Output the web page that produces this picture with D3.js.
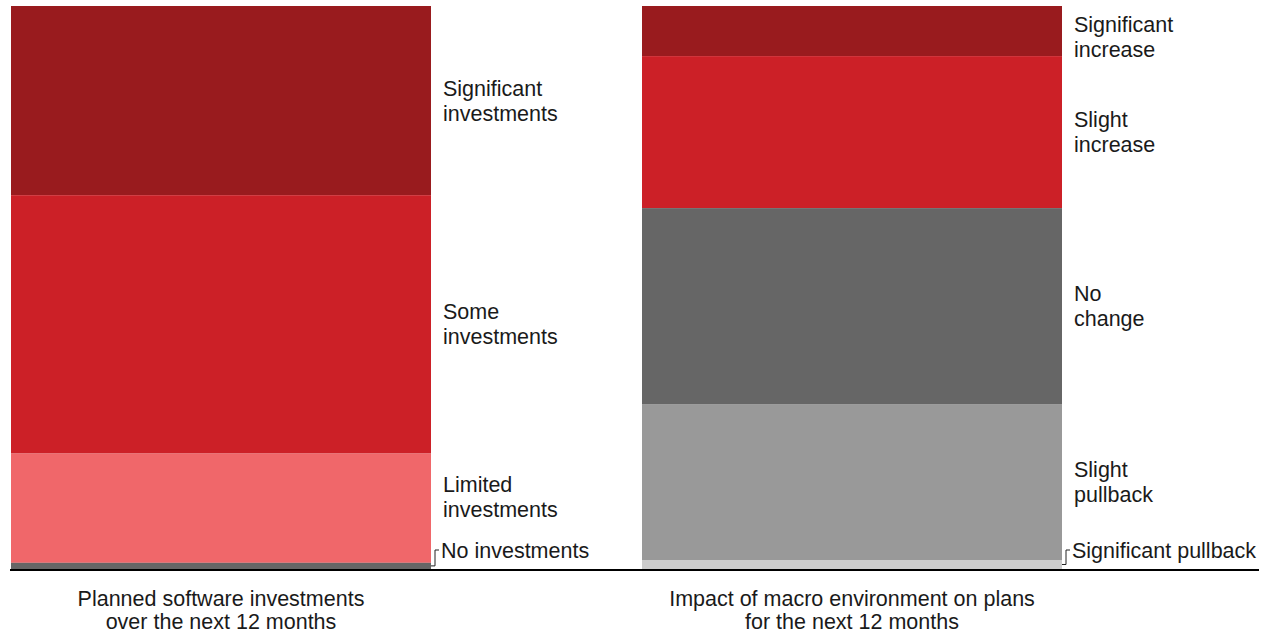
<!DOCTYPE html>
<html>
<head>
<meta charset="utf-8">
<script src="https://cdn.jsdelivr.net/npm/d3@7"></script>
<style>
  html, body { margin: 0; padding: 0; background: #fff; }
  svg { display: block; font-family: "Liberation Sans", Arial, sans-serif; }
</style>
</head>
<body>
<svg id="chart" width="1270" height="634"></svg>
<script>
// Two 100% stacked bars (shares in percent, listed top to bottom)
const barTitles = [
  ["Planned software investments", "over the next 12 months"],
  ["Impact of macro environment on plans", "for the next 12 months"]
];
const investLabels = ["Significant investments", "Some investments", "Limited investments", "No investments"];
const investValues = [33.6, 45.9, 19.4, 1.1];
const macroLabels = ["Significant increase", "Slight increase", "No change", "Slight pullback", "Significant pullback"];
const macroValues = [8.9, 27.0, 34.8, 27.7, 1.6];

const investColors = ["#991b1e", "#cc2027", "#f0676a", "#666666"];
const macroColors = ["#991b1e", "#cc2027", "#666666", "#999999", "#cccccc"];

const bars = [
  { labels: investLabels, values: investValues, colors: investColors, title: barTitles[0] },
  { labels: macroLabels, values: macroValues, colors: macroColors, title: barTitles[1] }
];

const svg = d3.select("#chart");
const fontSize = 21.5, lineH = 25;

const x = d3.scaleBand().domain(d3.range(bars.length)).range([11, 1062])
  .paddingInner(211 / 631).paddingOuter(0);
const y = d3.scaleLinear().domain([0, 100]).range([569, 6]);

bars.forEach((bar, bi) => {
  const g = svg.append("g");
  // stack from the top: cumulative share above each segment
  const segs = bar.values.map((v, i) => {
    const above = d3.sum(bar.values.slice(0, i));
    return { label: bar.labels[i], value: v, color: bar.colors[i], top: 100 - above, bottom: 100 - above - v };
  });

  g.selectAll("rect").data(segs).join("rect")
    .attr("x", x(bi))
    .attr("width", x.bandwidth())
    .attr("y", d => y(d.top))
    .attr("height", d => y(d.bottom) - y(d.top))
    .attr("fill", d => d.color);

  const ex = x(bi) + x.bandwidth();
  const lx = ex + 12;
  const smallY = y(0) - 19;   // line centre of the label for a thin bottom segment
  segs.forEach((d, i) => {
    const mid = (y(d.top) + y(d.bottom)) / 2;
    if (d.value < 3) {
      // thin segment: single-line label with a small elbow leader
      g.append("path")
        .attr("d", `M${ex},${mid}H${ex + 4}V${smallY}H${ex + 8}`)
        .attr("fill", "none").attr("stroke", "#222").attr("stroke-width", 1);
      g.append("text")
        .attr("x", ex + 10).attr("y", smallY + 7.5)
        .attr("font-size", fontSize).attr("fill", "#1a1a1a")
        .text(d.label);
    } else {
      const words = d.label.split(" ");
      let first = mid - (words.length - 1) * lineH / 2;
      first = Math.max(first, y(100) + 18);
      // keep clear of the leader label below when the next segment is thin
      const next = segs[i + 1];
      if (next && next.value < 3) {
        const last = first + (words.length - 1) * lineH;
        const limit = smallY - 41;
        if (last > limit) first -= last - limit;
      }
      const t = g.append("text")
        .attr("font-size", fontSize).attr("fill", "#1a1a1a");
      words.forEach((w, k) => {
        t.append("tspan").attr("x", lx).attr("y", first + k * lineH + 7.5).text(w);
      });
    }
  });

  const tt = g.append("text").attr("text-anchor", "middle")
    .attr("font-size", fontSize).attr("fill", "#1a1a1a");
  bar.title.forEach((line, k) => {
    tt.append("tspan").attr("x", x(bi) + x.bandwidth() / 2).attr("y", 606 + k * 23).text(line);
  });
});

// baseline
svg.append("line")
  .attr("x1", 10).attr("x2", 1259)
  .attr("y1", y(0) + 1).attr("y2", y(0) + 1)
  .attr("stroke", "#000").attr("stroke-width", 2);
</script>
</body>
</html>
